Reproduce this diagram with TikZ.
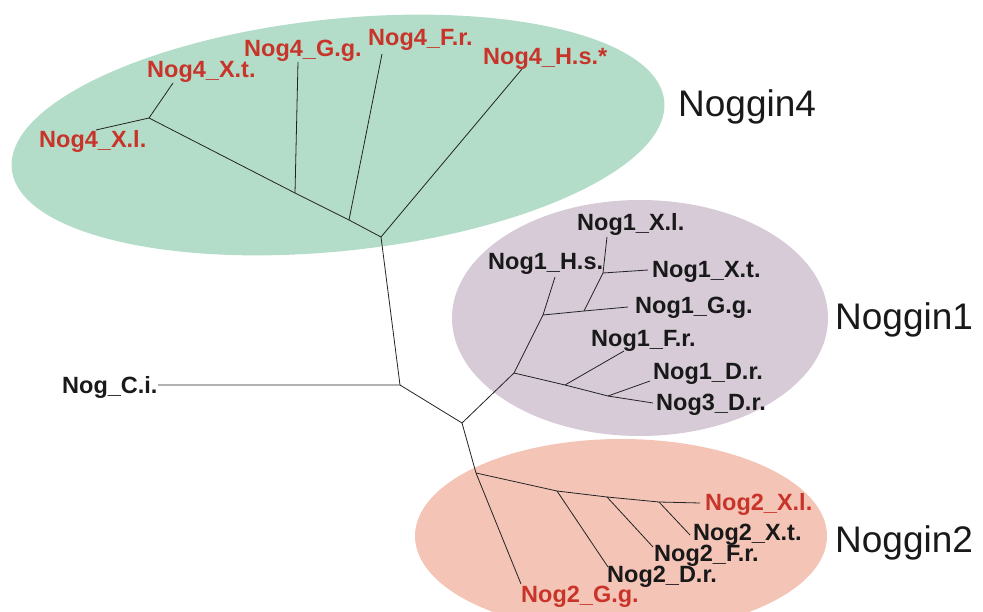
\documentclass[tikz,border=0pt]{standalone}
\usepackage{fontspec}
\setmainfont{Liberation Sans}
\definecolor{nogfour}{RGB}{179,221,201}
\definecolor{nogone}{RGB}{214,203,215}
\definecolor{nogtwo}{RGB}{244,197,182}
\definecolor{nogred}{RGB}{200,52,42}
\definecolor{treeline}{RGB}{35,35,35}
\begin{document}
\begin{tikzpicture}[x=1pt,y=-1pt,
  leaf/.style={font=\bfseries\fontsize{23.5}{25}\selectfont, text=black!90, inner sep=0pt, anchor=base west},
  leafred/.style={leaf, text=nogred},
  cladename/.style={font=\fontsize{37}{40}\selectfont, text=black!90, inner sep=0pt, anchor=base west},
  branch/.style={line width=0.8pt, draw=treeline}]
\useasboundingbox (0,0) rectangle (983,612);

% clade backgrounds
\fill[nogfour, rotate around={6:(338,135)}] (338,135) ellipse [x radius=328, y radius=116];
\fill[nogone] (640,318) ellipse [x radius=188, y radius=118];
\fill[nogtwo] (621,536) ellipse [x radius=206, y radius=97];

% internal branch points
\coordinate (A)  at (400,385);
\coordinate (B)  at (462,423);
\coordinate (G0) at (381,237);
\coordinate (G1) at (349,220);
\coordinate (G2) at (295,193);
\coordinate (G3) at (149,118);
\coordinate (R1) at (514,373);
\coordinate (P1) at (543,315);
\coordinate (Q1) at (584,311);
\coordinate (S1) at (603,273);
\coordinate (T1) at (565,385);
\coordinate (U1) at (608,396);
\coordinate (R2) at (476,473);
\coordinate (V1) at (557,491);
\coordinate (V2) at (607,497);
\coordinate (V3) at (659,502);

% branch tips
\coordinate (tci)  at (158,385);
\coordinate (t4xl) at (96,130);
\coordinate (t4xt) at (173,83);
\coordinate (t4gg) at (298,62);
\coordinate (t4fr) at (382,54);
\coordinate (t4hs) at (522,69);
\coordinate (t1hs) at (555,277);
\coordinate (t1gg) at (628,307);
\coordinate (t1xl) at (607,237);
\coordinate (t1xt) at (648,270);
\coordinate (t1fr) at (624,351);
\coordinate (t1dr) at (650,381);
\coordinate (t3dr) at (653,403);
\coordinate (t2gg) at (521,584);
\coordinate (t2xl) at (700,503);
\coordinate (t2dr) at (608,567);
\coordinate (t2fr) at (653,547);
\coordinate (t2xt) at (690,535);

% tree
\draw[branch] (tci) -- (A) -- (B);
\draw[branch] (A) -- (G0) -- (G1) -- (G2) -- (G3) -- (t4xl);
\draw[branch] (G3) -- (t4xt);
\draw[branch] (G2) -- (t4gg);
\draw[branch] (G1) -- (t4fr);
\draw[branch] (G0) -- (t4hs);
\draw[branch] (B) -- (R1) -- (P1) -- (Q1) -- (t1gg);
\draw[branch] (P1) -- (t1hs);
\draw[branch] (Q1) -- (S1) -- (t1xl);
\draw[branch] (S1) -- (t1xt);
\draw[branch] (R1) -- (T1) -- (U1) -- (t3dr);
\draw[branch] (T1) -- (t1fr);
\draw[branch] (U1) -- (t1dr);
\draw[branch] (B) -- (R2) -- (t2gg);
\draw[branch] (R2) -- (V1) -- (V2) -- (V3) -- (t2xl);
\draw[branch] (V1) -- (t2dr);
\draw[branch] (V2) -- (t2fr);
\draw[branch] (V3) -- (t2xt);

% leaf labels
\node[leaf]    (lci)  at (62,393)  {Nog\_C.i.};
\node[leafred] (l4xl) at (39,148)  {Nog4\_X.l.};
\node[leafred] (l4xt) at (147,78)  {Nog4\_X.t.};
\node[leafred] (l4gg) at (244,57)  {Nog4\_G.g.};
\node[leafred] (l4fr) at (368,46)  {Nog4\_F.r.};
\node[leafred] (l4hs) at (483,65)  {Nog4\_H.s.*};
\node[leaf]    (l1xl) at (577,231) {Nog1\_X.l.};
\node[leaf]    (l1hs) at (488,270) {Nog1\_H.s.};
\node[leaf]    (l1xt) at (652,278) {Nog1\_X.t.};
\node[leaf]    (l1gg) at (635,314) {Nog1\_G.g.};
\node[leaf]    (l1fr) at (591,347) {Nog1\_F.r.};
\node[leaf]    (l1dr) at (653,380) {Nog1\_D.r.};
\node[leaf]    (l3dr) at (656,410) {Nog3\_D.r.};
\node[leafred] (l2xl) at (705,510) {Nog2\_X.l.};
\node[leaf]    (l2xt) at (693,540) {Nog2\_X.t.};
\node[leaf]    (l2fr) at (654,561) {Nog2\_F.r.};
\node[leaf]    (l2dr) at (607,582) {Nog2\_D.r.};
\node[leafred] (l2gg) at (521,602) {Nog2\_G.g.};

% clade names
\node[cladename] (n4) at (678,117) {Noggin4};
\node[cladename] (n1) at (835,330) {Noggin1};
\node[cladename] (n2) at (835,552) {Noggin2};
\end{tikzpicture}
\end{document}
